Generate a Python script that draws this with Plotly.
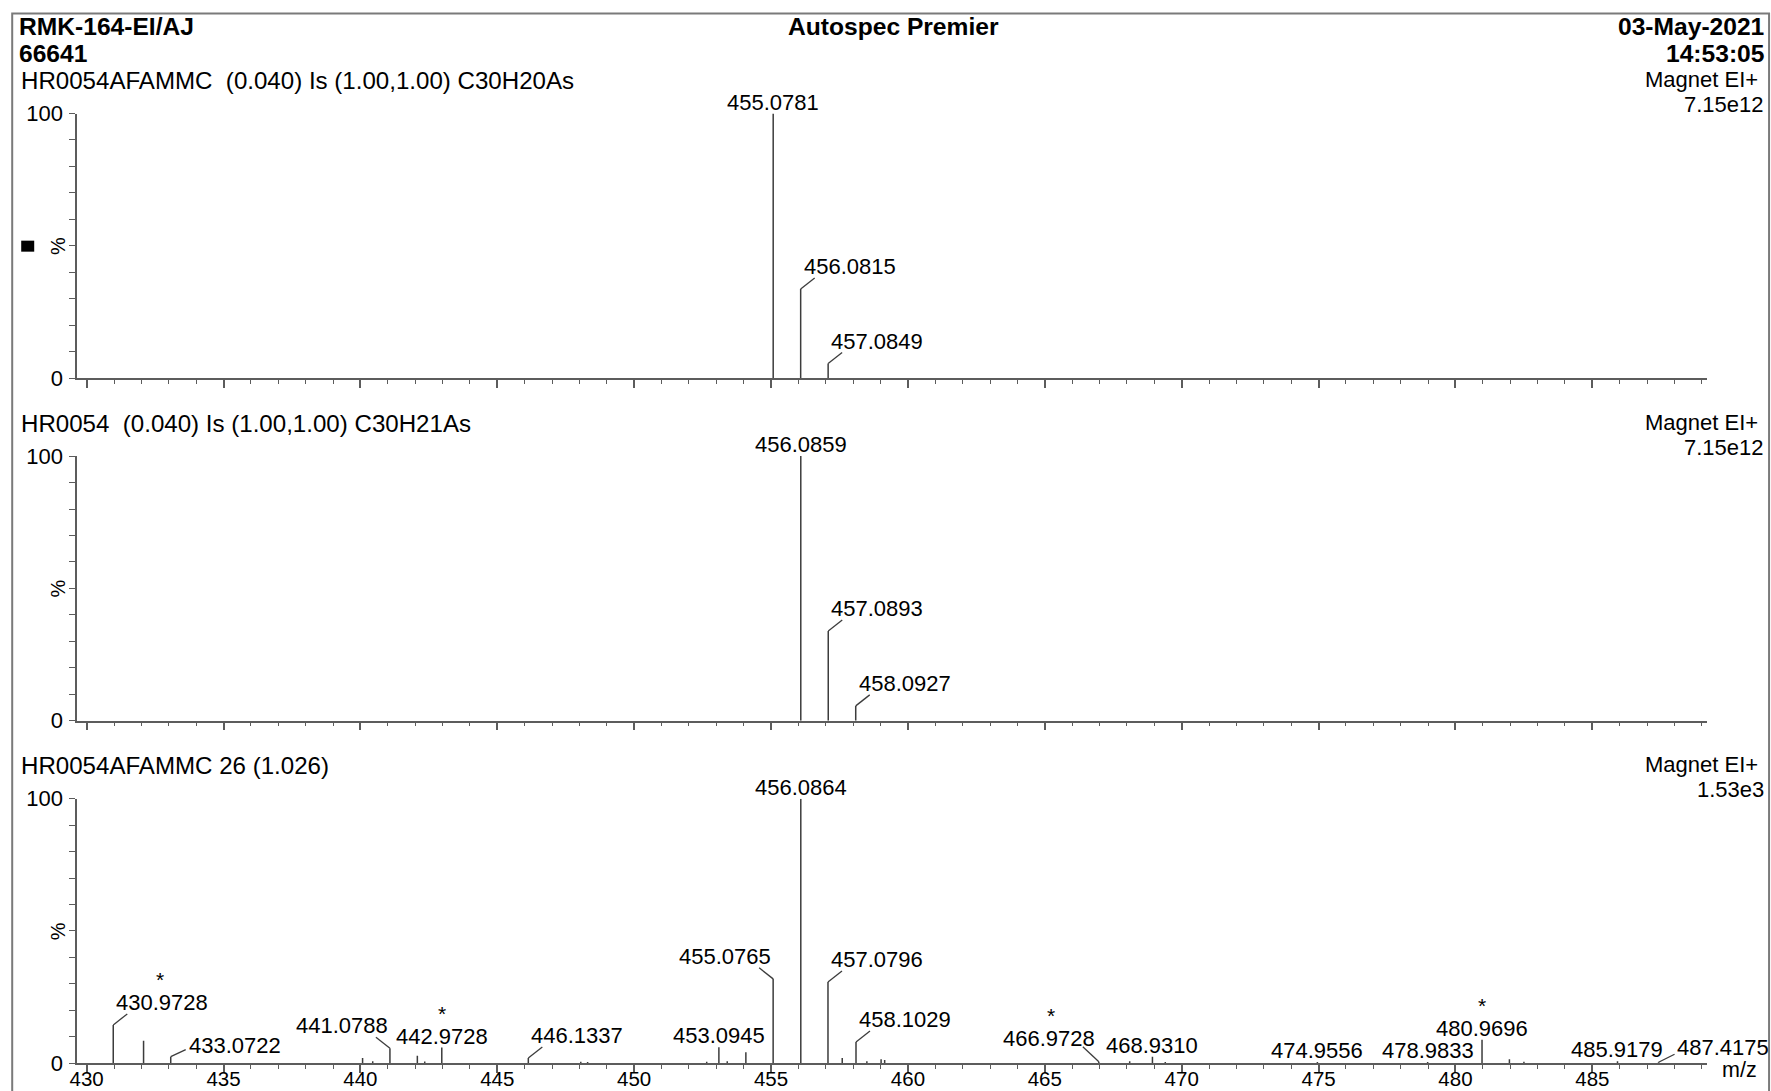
import plotly.graph_objects as go

# ---- spectrum data -------------------------------------------------------
# Panel 1: calculated isotope pattern for C30H20As
theo1_mz = [455.0781, 456.0815, 457.0849]
theo1_int = [100.0, 33.7, 5.5]

# Panel 2: calculated isotope pattern for C30H21As
theo2_mz = [456.0859, 457.0893, 458.0927]
theo2_int = [100.0, 33.9, 5.6]

# Panel 3: measured scan 26, labelled centroids
scan_mz = [430.9728, 433.0722, 441.0788, 442.9728, 446.1337, 453.0945,
           455.0765, 456.0864, 457.0796, 458.1029, 466.9728, 468.9310,
           474.9556, 478.9833, 480.9696, 485.9179, 487.4175]
scan_int = [14.5, 2.5, 5.7, 6.0, 2.0, 6.1,
            31.9, 100.0, 30.7, 8.0, 0.6, 2.5,
            0.5, 0.5, 8.9, 0.8, 0.4]

# Panel 3: unlabelled centroids
minor_mz = [432.08, 440.08, 440.45, 442.08, 442.35, 448.05, 448.30, 452.65,
            453.40, 454.08, 457.60, 458.50, 459.02, 459.15, 468.10, 469.40,
            481.97, 482.50]
minor_int = [8.5, 2.0, 0.8, 2.8, 0.7, 0.6, 0.5, 0.6,
             0.8, 4.2, 2.0, 0.8, 1.5, 1.2, 0.8, 0.5,
             1.5, 0.6]

# lock-mass reference peaks (flagged with an asterisk)
ref_mz = [430.9728, 442.9728, 466.9728, 480.9696]

x_tick_vals = [430, 435, 440, 445, 450, 455, 460, 465, 470, 475, 480, 485]
y_tick_vals = [0, 10, 20, 30, 40, 50, 60, 70, 80, 90, 100]

panel_titles = ["HR0054AFAMMC\u00a0 (0.040) Is (1.00,1.00) C30H20As",
                "HR0054\u00a0 (0.040) Is (1.00,1.00) C30H21As",
                "HR0054AFAMMC 26 (1.026)"]
panel_modes = ["Magnet EI+", "Magnet EI+", "Magnet EI+"]
panel_scales = ["7.15e12", "7.15e12", "1.53e3"]

# ---- page geometry -------------------------------------------------------
# Positions below are given in page pixels; the figure sits inside the page
# with a small offset and a slight scale, so page pixels are mapped back to
# figure pixels before use.
SX, SY = 0.995, 0.9763        # page px per figure px
OX, OY = 7.8, 11.6            # page offset of the figure origin
FIG_W, FIG_H = 1772, 1106

FONT = "Liberation Sans, Arial, Helvetica, sans-serif"
INK = "#000000"
AXIS_C = "#5c5c5c"
PEAK_C = "#3c3c3c"

X_RANGE = [429.657, 489.17]
X0_PX, X1_PX = 77.0, 1705.5
PANEL_ZERO_PX = [377.3, 719.5, 1061.7]   # page row of 0 %
PANEL_H_PX = 264.3                        # page pixels from 0 % to 100 %

PX_PER_MZ = (X1_PX - X0_PX) / (X_RANGE[1] - X_RANGE[0])
PX_PER_PCT = PANEL_H_PX / 100.0


def fs(size):
    """font size in figure units for a given page size"""
    return round(size / SY, 1)


def px_x(px):
    return ((px - OX) / SX) / FIG_W


def px_y(py):
    return 1.0 - ((py - OY) / SY) / FIG_H


LABEL_SIZE = fs(21.5)
CAPTION_SIZE = fs(23.5)
SIDE_SIZE = fs(21.5)
HEADER_SIZE = fs(24)

# label placements: anchor, text offset (dx, dy page px), leader end (dx, dy page px)
PLACEMENT = {
    "up": ("center", 0, 11, None),
    "right": ("left", 1, 22, (14, 11)),
    "left": ("right", 0, 22, (-14, 11)),
    "shift": ("left", 16, 11, (15, 7)),
    "shift_hi": ("left", 16, 14, (16, 8)),
    "far_left": ("right", -2, 23, (-16, 15)),
}

label_style = {
    "456.0815": "right", "457.0849": "right",
    "457.0893": "right", "458.0927": "right",
    "430.9728": "right", "433.0722": "shift", "441.0788": "left",
    "446.1337": "right", "455.0765": "left", "457.0796": "right",
    "458.1029": "right", "466.9728": "far_left", "487.4175": "shift_hi",
}

CHAR_W = {".": 0.278}


def text_width(s, size):
    return sum(CHAR_W.get(c, 0.556) for c in s) * size


fig = go.Figure()
annotations = []
shapes = []

panels = [
    (theo1_mz, theo1_int, [], []),
    (theo2_mz, theo2_int, [], []),
    (scan_mz, scan_int, minor_mz, minor_int),
]

for i, (mz, inten, mmz, mint) in enumerate(panels):
    sfx = "" if i == 0 else str(i + 1)
    xa, ya = "x" + sfx, "y" + sfx
    zero = PANEL_ZERO_PX[i]
    top = zero - PANEL_H_PX

    # stick spectrum
    xs, ys = [], []
    for m, h in list(zip(mz, inten)) + list(zip(mmz, mint)):
        xs += [m, m, None]
        ys += [0, h, None]
    fig.add_trace(go.Scatter(x=xs, y=ys, mode="lines", xaxis=xa, yaxis=ya,
                             line=dict(color=PEAK_C, width=1.5),
                             hoverinfo="skip", showlegend=False))

    # peak labels and leaders
    lx, ly = [], []
    for m, h in zip(mz, inten):
        txt = f"{m:.4f}"
        anchor, tdx, tdy, leader = PLACEMENT[label_style.get(txt, "up")]
        if leader is not None:
            lx += [m, m + leader[0] / PX_PER_MZ, None]
            ly += [h, h + leader[1] / PX_PER_PCT, None]
        annotations.append(dict(
            x=m, y=h, xref=xa, yref=ya, text=txt, showarrow=False,
            xanchor=anchor, yanchor="middle", xshift=tdx / SX, yshift=tdy / SY,
            font=dict(family=FONT, size=LABEL_SIZE, color=INK)))
        if m in ref_mz:
            half = text_width(txt, LABEL_SIZE) / 2
            cx = tdx / SX + (half if anchor == "left" else -half if anchor == "right" else 0)
            annotations.append(dict(
                x=m, y=h, xref=xa, yref=ya, text="*", showarrow=False,
                xanchor="center", yanchor="middle", xshift=cx,
                yshift=(tdy + 22) / SY,
                font=dict(family=FONT, size=LABEL_SIZE - 1, color=INK)))
    if lx:
        fig.add_trace(go.Scatter(x=lx, y=ly, mode="lines", xaxis=xa, yaxis=ya,
                                 line=dict(color=PEAK_C, width=1.3),
                                 hoverinfo="skip", showlegend=False))

    # axes
    xdom = [px_x(X0_PX), px_x(X1_PX)]
    ydom = [px_y(zero), px_y(top)]
    fig.update_layout(**{
        "xaxis" + sfx: dict(
            domain=xdom, anchor=ya, range=X_RANGE, showgrid=False, zeroline=False,
            showline=True, linecolor=AXIS_C, linewidth=1.6,
            tickmode="array", tickvals=x_tick_vals,
            ticktext=[str(v) for v in x_tick_vals],
            showticklabels=(i == 2), ticklabelstandoff=-12,
            ticks="outside", ticklen=8, tickwidth=1.5, tickcolor=AXIS_C,
            minor=dict(dtick=1, tick0=430, ticks="outside", ticklen=4,
                       tickwidth=1.3, tickcolor=AXIS_C, showgrid=False),
            tickfont=dict(family=FONT, size=fs(20), color=INK),
        ),
        "yaxis" + sfx: dict(
            domain=ydom, anchor=xa, range=[0, 100], showgrid=False, zeroline=False,
            showline=True, linecolor=AXIS_C, linewidth=1.6,
            tickmode="array", tickvals=y_tick_vals,
            ticktext=["0"] + [""] * 9 + ["100"],
            ticks="outside", ticklen=6, tickwidth=1.3, tickcolor=AXIS_C,
            ticklabelstandoff=2,
            tickfont=dict(family=FONT, size=fs(21.5), color=INK),
        ),
    })

    # "%" axis title
    annotations.append(dict(x=px_x(58), y=50, xref="paper", yref=ya, text="%",
                            showarrow=False, textangle=-90,
                            xanchor="center", yanchor="middle",
                            font=dict(family=FONT, size=fs(19.5), color=INK)))

    # panel captions
    cap_y = top - 33
    annotations.append(dict(x=px_x(19), y=px_y(cap_y), xref="paper", yref="paper",
                            text=panel_titles[i], showarrow=False,
                            xanchor="left", yanchor="middle",
                            font=dict(family=FONT, size=CAPTION_SIZE, color=INK)))
    annotations.append(dict(x=px_x(1759), y=px_y(cap_y - 1), xref="paper", yref="paper",
                            text=panel_modes[i], showarrow=False,
                            xanchor="right", yanchor="middle",
                            font=dict(family=FONT, size=SIDE_SIZE, color=INK)))
    annotations.append(dict(x=px_x(1765), y=px_y(cap_y + 24), xref="paper", yref="paper",
                            text=panel_scales[i], showarrow=False,
                            xanchor="right", yanchor="middle",
                            font=dict(family=FONT, size=SIDE_SIZE, color=INK)))

# page header
header = [
    ("RMK-164-EI/AJ", 17, 26, "left"),
    ("66641", 17, 53, "left"),
    ("Autospec Premier", 893, 26, "center"),
    ("03-May-2021", 1765, 26, "right"),
    ("14:53:05", 1765, 53, "right"),
]
for txt, hx, hy, anc in header:
    annotations.append(dict(x=px_x(hx), y=px_y(hy), xref="paper", yref="paper",
                            text="<b>" + txt + "</b>", showarrow=False,
                            xanchor=anc, yanchor="middle",
                            font=dict(family=FONT, size=HEADER_SIZE, color=INK)))

# m/z unit at the end of the lowest axis
annotations.append(dict(x=px_x(1738), y=px_y(1068), xref="paper", yref="paper",
                        text="m/z", showarrow=False, xanchor="center",
                        yanchor="middle",
                        font=dict(family=FONT, size=fs(21), color=INK)))

# page frame
shapes.append(dict(type="rect", xref="paper", yref="paper",
                   x0=px_x(12), x1=px_x(1768), y0=-0.05, y1=px_y(13),
                   line=dict(color="#7a7a7a", width=2), fillcolor="rgba(0,0,0,0)"))
# trace marker box in the first panel
shapes.append(dict(type="rect", xref="paper", yref="paper",
                   x0=px_x(21), x1=px_x(34), y0=px_y(251), y1=px_y(240),
                   line=dict(color="black", width=0), fillcolor="black"))

fig.update_layout(
    width=FIG_W, height=FIG_H,
    margin=dict(l=0, r=0, t=0, b=0),
    paper_bgcolor="white", plot_bgcolor="white",
    font=dict(family=FONT, color=INK),
    annotations=annotations, shapes=shapes,
    showlegend=False,
)

fig.write_html("out.html")
